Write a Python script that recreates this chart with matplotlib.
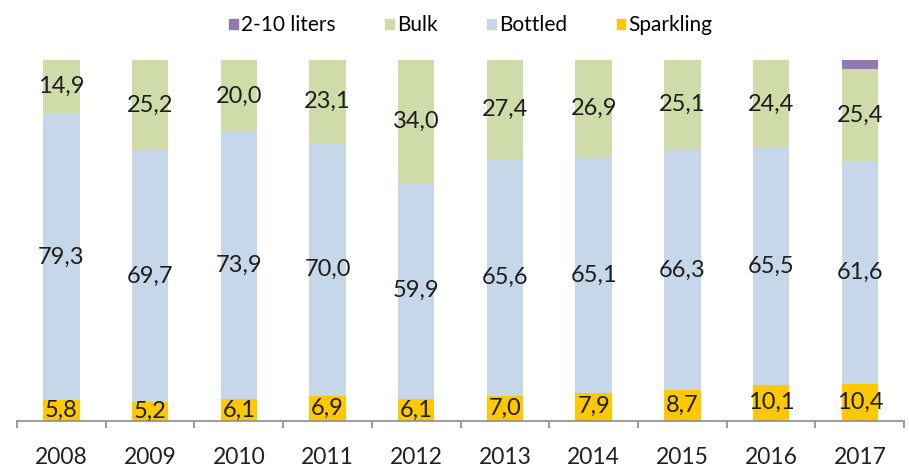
import matplotlib
matplotlib.use("Agg")
import matplotlib.pyplot as plt
from matplotlib.patches import Patch
import numpy as np

years = ["2008", "2009", "2010", "2011", "2012", "2013", "2014", "2015", "2016", "2017"]
sparkling = [5.8, 5.2, 6.1, 6.9, 6.1, 7.0, 7.9, 8.7, 10.1, 10.4]
bottled = [79.3, 69.7, 73.9, 70.0, 59.9, 65.6, 65.1, 66.3, 65.5, 61.6]
bulk = [14.9, 25.2, 20.0, 23.1, 34.0, 27.4, 26.9, 25.1, 24.4, 25.4]
liters_2_10 = [0, 0, 0, 0, 0, 0, 0, 0, 0, 2.6]

colors = {
    "Sparkling": "#ffc800",
    "Bottled": "#c5d7e8",
    "Bulk": "#cfdcaa",
    "2-10 liters": "#927ab1",
}

plt.rcParams["font.family"] = ["Lato", "DejaVu Sans"]

fig = plt.figure(figsize=(9.09, 4.71), dpi=100)
ax = fig.add_axes([0.0187, 0.106, 0.976, 0.767])

x = np.arange(len(years))
w = 0.41
bottom = np.zeros(len(years))
for name, vals in [("Sparkling", sparkling), ("Bottled", bottled),
                   ("Bulk", bulk), ("2-10 liters", liters_2_10)]:
    vals = np.array(vals)
    ax.bar(x, vals, w, bottom=bottom, color=colors[name], edgecolor="none")
    if name != "2-10 liters":
        for xi, b, v in zip(x, bottom, vals):
            ax.text(xi, b + v / 2, f"{v:.1f}".replace(".", ","), ha="center",
                    va="center", fontsize=17, color="#1e1e1e")
    bottom += vals

ax.set_xlim(-0.5, len(years) - 0.5)
ax.set_ylim(0, 100)
ax.set_yticks([])
for s in ("left", "right", "top"):
    ax.spines[s].set_visible(False)
ax.spines["bottom"].set_color("#8c8c8c")
ax.spines["bottom"].set_linewidth(1.2)

ax.set_xticks(np.arange(-0.5, len(years), 1.0))
ax.set_xticklabels([])
ax.tick_params(axis="x", direction="out", length=5, color="#8c8c8c", width=1.2)
ax.set_xticks(x, minor=True)
ax.set_xticklabels(years, minor=True, fontsize=16.5, color="#222222")
ax.tick_params(axis="x", which="minor", length=0, pad=19)

handles = [Patch(color=colors[n]) for n in ["2-10 liters", "Bulk", "Bottled", "Sparkling"]]
fig.legend(handles, ["2-10 liters", "Bulk", "Bottled", "Sparkling"], loc="center",
           bbox_to_anchor=(0.518, 0.946), ncol=4, frameon=False, fontsize=15,
           handlelength=0.4, handleheight=0.4, handletextpad=0.15, columnspacing=2.4)

fig.savefig("out.png", dpi=100)
